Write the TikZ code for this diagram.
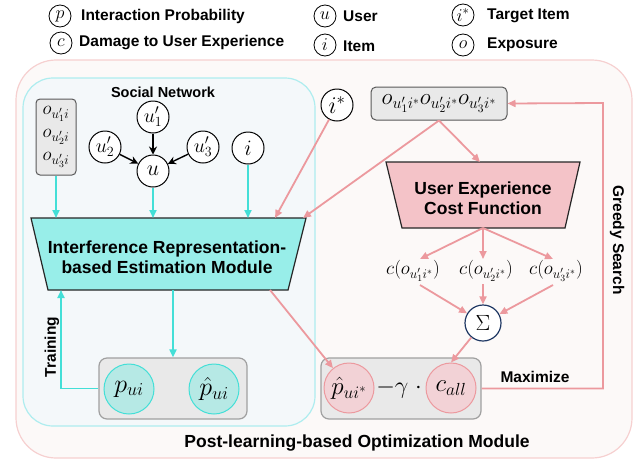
\RequirePackage{fix-cm}
\documentclass[tikz,border=0pt]{standalone}
\usepackage{fontspec}
\setmainfont{Liberation Sans}
\usetikzlibrary{arrows.meta}
\definecolor{outerfill}{HTML}{FCF9F8}
\definecolor{outerdraw}{HTML}{F6D0D0}
\definecolor{cyanfill}{HTML}{F4F8FA}
\definecolor{cyandraw}{HTML}{AEEDEF}
\definecolor{trapcyan}{HTML}{98EEE9}
\definecolor{trappink}{HTML}{F4C3C8}
\definecolor{cyanline}{HTML}{43DFD7}
\definecolor{pinkline}{HTML}{EC999E}
\definecolor{greyfill}{HTML}{E9E9E9}
\definecolor{greydraw}{HTML}{A0A0A0}
\definecolor{pcfill}{HTML}{B6E9E5}
\definecolor{pkfill}{HTML}{F2D2D6}
\definecolor{navy}{HTML}{1F3864}
\begin{document}
\begin{tikzpicture}[x=1pt,y=-1pt,
  legc/.style={circle,draw=black,line width=0.8pt,minimum size=22pt,inner sep=0pt,font=\fontsize{18}{18}\selectfont},
  legt/.style={anchor=west,inner sep=0pt,font=\fontsize{15.5}{18}\selectfont\bfseries},
  lbl/.style={inner sep=0pt,font=\fontsize{15.5}{18}\selectfont\bfseries},
  biglbl/.style={inner sep=0pt,align=center,font=\fontsize{17.5}{20}\selectfont\bfseries},
  bigc/.style={circle,draw=black,fill=white,line width=1pt,minimum size=32pt,inner sep=0pt,font=\fontsize{22}{24}\selectfont},
  obox/.style={draw=black!65,fill=greyfill,rounded corners=4pt,line width=1pt,inner sep=0pt},
  gbox/.style={draw=greydraw,fill=greyfill,rounded corners=8pt,line width=1.2pt,inner sep=0pt,minimum height=61pt},
  cyc/.style={circle,draw=cyanline,fill=pcfill,line width=1pt,minimum size=50pt,inner sep=0pt,font=\fontsize{26}{28}\selectfont},
  pkc/.style={circle,draw=pinkline,fill=pkfill,line width=1pt,minimum size=50pt,inner sep=0pt,font=\fontsize{25}{28}\selectfont},
  blarrow/.style={draw=black,line width=1.4pt,-{Stealth[length=8pt,width=8pt]}},
  cyarrow/.style={draw=cyanline,line width=1.8pt,-{Triangle[length=8pt,width=7pt]}},
  pkarrow/.style={draw=pinkline,line width=1.8pt,-{Triangle[length=8pt,width=7pt]}},
  clbl/.style={inner sep=1pt,font=\fontsize{19}{20}\selectfont}
]
\useasboundingbox (0,0) rectangle (644,461);

% legend
\node[legc] (lp) at (60,16) {$p$};
\node[legt] (lpt) at (81,16) {Interaction Probability};
\node[legc] (lc) at (61,43) {$c$};
\node[legt] (lct) at (79,43) {Damage to User Experience};
\node[legc] (lu) at (325,16) {$u$};
\node[legt] (lut) at (343,16) {User};
\node[legc] (li) at (325,45) {$i$};
\node[legt] (lit) at (343,46) {Item};
\node[legc] (ls) at (463,15) {$i^{*}$};
\node[legt] (lst) at (487,16) {Target Item};
\node[legc] (lo) at (463,45) {$o$};
\node[legt] (lot) at (487,45) {Exposure};

% containers
\draw[draw=outerdraw,fill=outerfill,line width=1.2pt,rounded corners=40pt] (16,60) rectangle (632,458);
\draw[draw=cyandraw,fill=cyanfill,line width=1.2pt,rounded corners=30pt] (23,78) rectangle (315,426);

\node[lbl,font=\fontsize{14.5}{16}\selectfont\bfseries] (sn) at (163,92) {Social Network};

% social network
\node[obox,minimum width=40pt,minimum height=76pt,align=center,font=\fontsize{19}{23}\selectfont] (ol) at (56,137) {$o_{u'_1 i}$\\$o_{u'_2 i}$\\$o_{u'_3 i}$};
\node[bigc,font=\fontsize{20}{22}\selectfont] (u1) at (153,117) {$u'_1$};
\node[bigc,font=\fontsize{20}{22}\selectfont] (u2) at (105,147) {$u'_2$};
\node[bigc,font=\fontsize{20}{22}\selectfont] (u3) at (203,147) {$u'_3$};
\node[bigc] (u) at (153,171) {$u$};
\node[bigc] (i) at (248,148) {$i$};
\draw[blarrow] (u1) -- (u);
\draw[blarrow] (u2) -- (u);
\draw[blarrow] (u3) -- (u);

% cyan trapezoid
\draw[fill=trapcyan,draw=black!85,line width=1.2pt] (31,218) -- (306,218) -- (288,290) -- (48,290) -- cycle;
\node[biglbl] (irem) at (167,257) {Interference Representation-\\based Estimation Module};
\coordinate (cT1) at (56,218);
\coordinate (cT2) at (153,218);
\coordinate (cT3) at (248,218);
\coordinate (cT4) at (275,218);
\coordinate (cT5) at (303,218);
\coordinate (cB1) at (61,290);
\coordinate (cB2) at (173,290);
\coordinate (cB3) at (270,290);

\draw[cyarrow] (ol.south) -- (cT1);
\draw[cyarrow] (u.south) -- (cT2);
\draw[cyarrow] (i.south) -- (cT3);

% left bottom grey box
\node[gbox,minimum width=148pt] (pbox) at (173,388.5) {};
\node[cyc] (p) at (129,389) {$p_{ui}$};
\node[cyc] (ph) at (214,389) {$\hat{p}_{ui}$};
\draw[cyarrow] (cB2) -- (pbox.north);
\draw[cyarrow] (pbox.west) -| (cB1);
\node[lbl,rotate=90] (tr) at (52,347) {Training};

% right side
\node[bigc,font=\fontsize{24}{26}\selectfont] (istar) at (337,105) {$i^{*}$};
\node[obox,rounded corners=5pt,minimum width=136pt,minimum height=33pt,font=\fontsize{23}{25}\selectfont] (otop) at (439,103.5) {$o_{u'_1 i^{*}}o_{u'_2 i^{*}}o_{u'_3 i^{*}}$};

\draw[fill=trappink,draw=black!85,line width=1.2pt] (386,162) -- (580,162) -- (565,228) -- (402,228) -- cycle;
\node[biglbl] (ux) at (483,198) {User Experience\\Cost Function};
\coordinate (uxT) at (480,162);
\coordinate (uxB) at (483,228);

\draw[pkarrow] (istar) -- (cT4);
\draw[pkarrow] (otop.south) -- (cT5);
\draw[pkarrow] (otop.south) -- (uxT);

\node[clbl] (c1) at (413,271) {$c(o_{u'_1 i^{*}})$};
\node[clbl] (c2) at (486,271) {$c(o_{u'_2 i^{*}})$};
\node[clbl] (c3) at (556,271) {$c(o_{u'_3 i^{*}})$};
\coordinate (c2t) at (483,259);
\coordinate (c2b) at (483,284);
\coordinate (c1t) at (420,259);
\coordinate (c3t) at (553,259);
\draw[pkarrow] (uxB) -- (c1t);
\draw[pkarrow] (uxB) -- (c2t);
\draw[pkarrow] (uxB) -- (c3t);

\node[circle,draw=navy,fill=white,line width=1.2pt,minimum size=36pt,inner sep=0pt,font=\fontsize{22}{24}\selectfont] (sig) at (483,323) {$\Sigma$};
\coordinate (c1b) at (420,285);
\coordinate (c3b) at (553,285);
\draw[pkarrow] (c1b) -- (sig);
\draw[pkarrow] (c2b) -- (sig);
\draw[pkarrow] (c3b) -- (sig);

\node[gbox,minimum width=160pt] (rbox) at (401,388.5) {};
\node[pkc] (phs) at (349,388) {$\hat{p}_{ui^{*}}$};
\node[pkc] (call) at (451,388) {$c_{all}$};
\node[inner sep=0pt,font=\fontsize{24}{26}\selectfont] (gam) at (399,389) {$-\gamma\ \cdot$};

\draw[pkarrow] (cB3) -- (phs);
\draw[pkarrow] (sig) -- (call.north);

\coordinate (gsr) at (603,103);
\draw[pkarrow] (rbox.east) -| (gsr) -- (otop.east);
\node[lbl] (mx) at (535,377) {Maximize};
\node[lbl,rotate=-90] (gs) at (617,240) {Greedy Search};

\node[biglbl] (plom) at (357,443) {Post-learning-based Optimization Module};
\end{tikzpicture}
\end{document}
